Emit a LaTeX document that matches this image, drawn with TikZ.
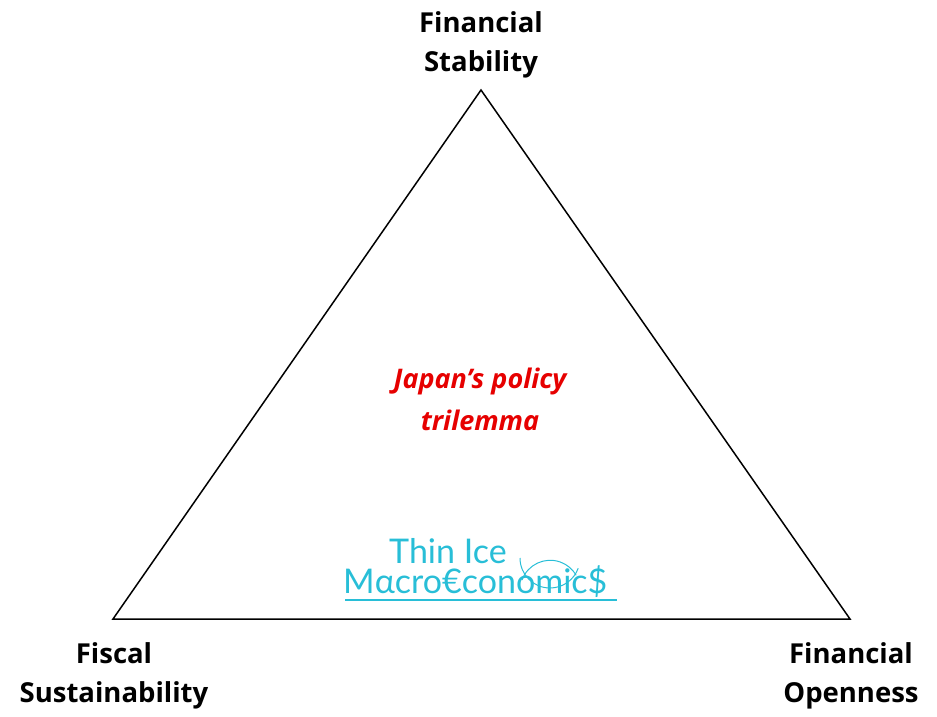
\documentclass[tikz,border=0pt]{standalone}
\usepackage{fontspec}
\setmainfont{Open Sans}
\newfontfamily\logofont{Lato}
\definecolor{logocyan}{RGB}{40,190,215}
\definecolor{trired}{RGB}{230,0,0}
\begin{document}
\begin{tikzpicture}[x=1pt,y=-1pt,
  lbl/.style={font=\fontsize{27.5}{39}\selectfont\bfseries,align=center,inner sep=0},
  logo/.style={font=\logofont\fontsize{34}{34}\selectfont,text=logocyan,inner sep=0,anchor=base west}]
\useasboundingbox (0,0) rectangle (937,716);
\coordinate (A) at (481,90);
\coordinate (B) at (113,619);
\coordinate (C) at (850,619);
\draw[line width=1.5pt] (A) -- (B) -- (C) -- cycle;
\node[lbl] (top) at (481,45) {Financial\\Stability};
\node[lbl] (left) at (114,676) {Fiscal\\Sustainability};
\node[lbl] (right) at (851,676) {Financial\\Openness};
\node[lbl,text=trired,font=\fontsize{27}{42}\selectfont\bfseries\itshape] (title) at (480,399) {Japan’s policy\\trilemma};
\node[logo] (l1) at (389,563) {Thin Ice};
\node[logo] (l2) at (343,593) {Mαcro€conomic\$};
\draw[logocyan,line width=1.2pt] (345,600) -- (617,600);
\draw[logocyan,line width=1pt] (520,558) arc[start angle=180,end angle=20,radius=30];
\draw[logocyan,line width=1pt] (522,580) arc[start angle=200,end angle=330,radius=30];
\end{tikzpicture}
\end{document}
